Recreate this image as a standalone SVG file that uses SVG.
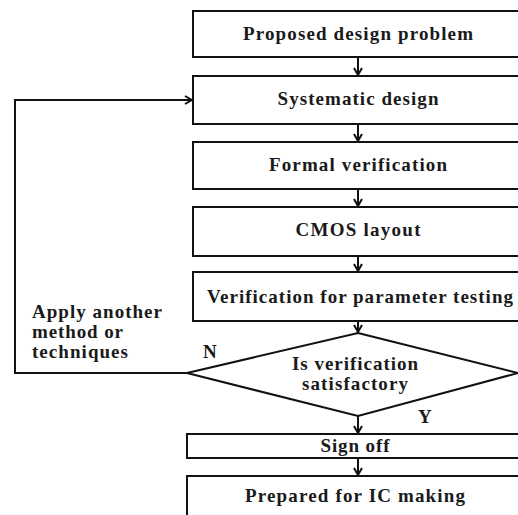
<svg xmlns="http://www.w3.org/2000/svg" width="518" height="515" viewBox="0 0 518 515">
  <style>
    .box { fill: #ffffff; stroke: #111111; stroke-width: 2; }
    .lbl { font-family: "Liberation Serif", "Times New Roman", serif; font-weight: bold; font-size: 19px; fill: #1a1a1a; text-anchor: middle; }
    .side { font-family: "Liberation Serif", "Times New Roman", serif; font-weight: bold; font-size: 19px; fill: #1a1a1a; }
    .wire { fill: none; stroke: #111111; stroke-width: 2; }
  </style>
  <defs>
    <marker id="chev" viewBox="0 0 10 10" refX="9" refY="5" markerWidth="10" markerHeight="10" markerUnits="userSpaceOnUse" orient="auto">
      <path d="M2,1 L9,5 L2,9" fill="none" stroke="#111111" stroke-width="2"/>
    </marker>
  </defs>
  <rect width="518" height="515" fill="#ffffff"/>

  <g id="connectors">
    <line class="wire" x1="358" y1="57" x2="358" y2="75" marker-end="url(#chev)"/>
    <line class="wire" x1="358" y1="124" x2="358" y2="141" marker-end="url(#chev)"/>
    <line class="wire" x1="358" y1="189" x2="358" y2="206" marker-end="url(#chev)"/>
    <line class="wire" x1="358" y1="256" x2="358" y2="271" marker-end="url(#chev)"/>
    <line class="wire" x1="358" y1="321" x2="358" y2="332" marker-end="url(#chev)"/>
    <line class="wire" x1="358" y1="416" x2="358" y2="433" marker-end="url(#chev)"/>
    <line class="wire" x1="358" y1="458" x2="358" y2="475" marker-end="url(#chev)"/>
    <polyline class="wire" points="187,373 15,373 15,100 192,100" marker-end="url(#chev)"/>
  </g>

  <g id="proposed">
    <rect class="box" x="193" y="11" width="340" height="46"/>
    <text class="lbl" x="358" y="40" textLength="230" lengthAdjust="spacing">Proposed design problem</text>
  </g>
  <g id="systematic">
    <rect class="box" x="193" y="76" width="340" height="48"/>
    <text class="lbl" x="358" y="105" textLength="161" lengthAdjust="spacing">Systematic design</text>
  </g>
  <g id="formal">
    <rect class="box" x="193" y="142" width="340" height="47"/>
    <text class="lbl" x="358" y="171" textLength="178" lengthAdjust="spacing">Formal verification</text>
  </g>
  <g id="cmos">
    <rect class="box" x="193" y="207" width="340" height="49"/>
    <text class="lbl" x="358" y="236" textLength="125" lengthAdjust="spacing">CMOS layout</text>
  </g>
  <g id="param">
    <rect class="box" x="193" y="272" width="340" height="49"/>
    <text class="lbl" x="360" y="303" textLength="306" lengthAdjust="spacing">Verification for parameter testing</text>
  </g>
  <g id="decision">
    <polygon class="box" points="358,333 518,373 358,416 187,373"/>
    <text class="lbl" x="355" y="370" textLength="126" lengthAdjust="spacing">Is verification</text>
    <text class="lbl" x="355" y="390" textLength="106" lengthAdjust="spacing">satisfactory</text>
  </g>
  <g id="signoff">
    <rect class="box" x="187" y="434" width="346" height="24"/>
    <text class="lbl" x="355" y="452" textLength="69" lengthAdjust="spacing">Sign off</text>
  </g>
  <g id="ic">
    <rect class="box" x="187" y="476" width="346" height="60"/>
    <text class="lbl" x="355" y="502" textLength="220" lengthAdjust="spacing">Prepared for IC making</text>
  </g>

  <g id="labels">
    <text class="side" x="32" y="318" textLength="130" lengthAdjust="spacing">Apply another</text>
    <text class="side" x="32" y="338" textLength="91" lengthAdjust="spacing">method or</text>
    <text class="side" x="32" y="358" textLength="96" lengthAdjust="spacing">techniques</text>
    <text class="side" x="203" y="358">N</text>
    <text class="side" x="418" y="423">Y</text>
  </g>
</svg>
